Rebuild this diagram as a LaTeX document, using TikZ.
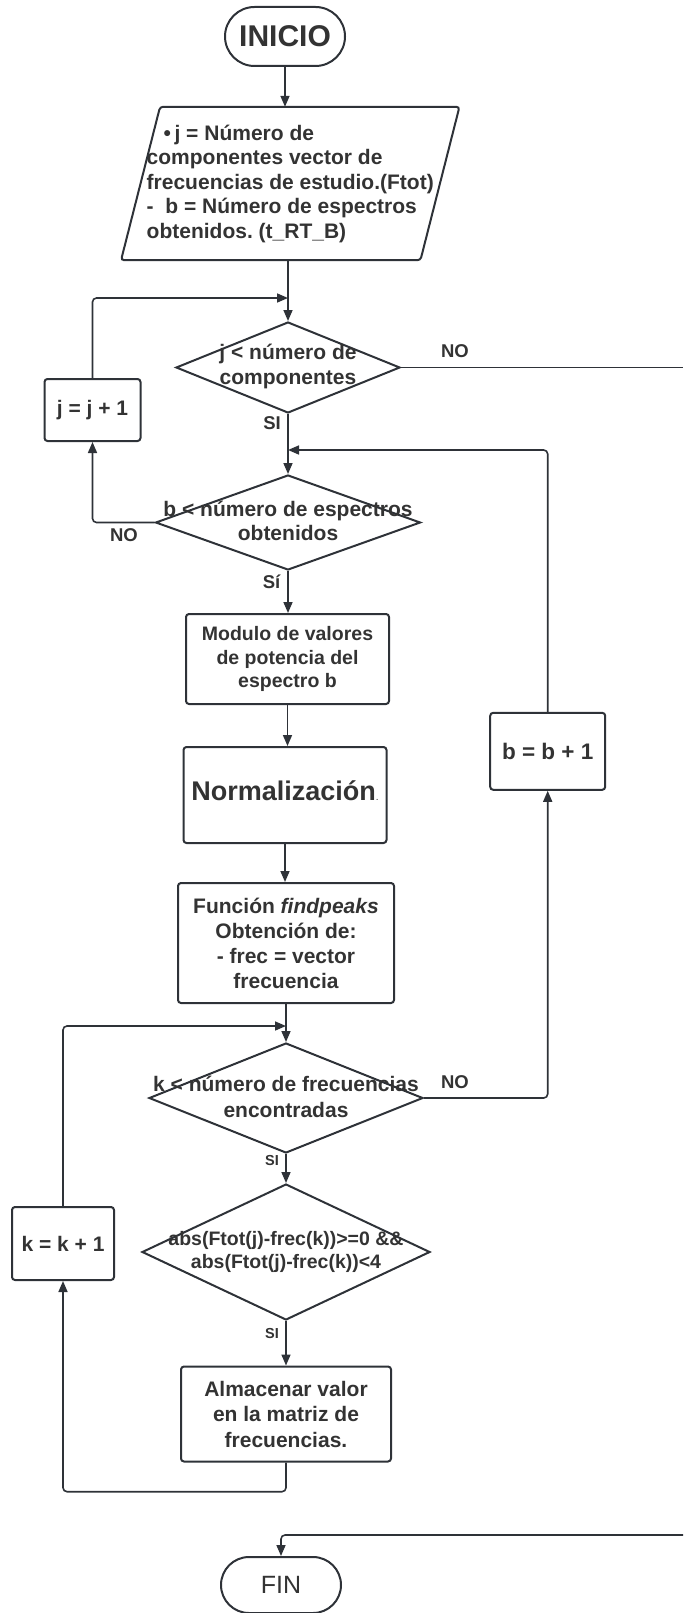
\documentclass[tikz,border=0pt]{standalone}
\usepackage{fontspec}
\setmainfont{Liberation Sans}
\usetikzlibrary{shapes.geometric,shapes.misc,arrows.meta,calc}
\definecolor{lc}{RGB}{46,50,56}
\definecolor{tc}{RGB}{51,51,51}
\frenchspacing
\tikzset{
  base/.style={draw=lc, line width=2pt, text=tc, align=center, inner sep=0pt},
  proc/.style={base, rectangle, rounded corners=3pt},
  term/.style={base, rounded rectangle},
  dec/.style={base, diamond},
  txt/.style={text=tc, align=center, inner sep=0pt},
  fa/.style={font=\bfseries\fontsize{21}{24.5}\selectfont},
  fb/.style={font=\bfseries\fontsize{19.5}{23.3}\selectfont},
  lab/.style={text=tc, inner sep=0pt, font=\bfseries\fontsize{18.5}{20}\selectfont},
  slab/.style={text=tc, inner sep=0pt, font=\bfseries\fontsize{14.5}{16}\selectfont},
  conn/.style={draw=lc, line width=1.6pt, rounded corners=4pt},
  arr/.style={conn, -{Triangle[length=11pt,width=9pt]}},
}
\begin{document}
\begin{tikzpicture}[x=1pt,y=-1pt]
\useasboundingbox (0,0) rectangle (683,1613);

% terminators
\node[term, minimum width=120pt, minimum height=59pt, font=\bfseries\fontsize{30}{34}\selectfont] (inicio) at (285,36.5) {INICIO};
\node[term, minimum width=120pt, minimum height=56pt, font=\fontsize{25}{28}\selectfont] (fin) at (281,1585) {FIN};

% input parallelogram
\node[txt, fa, align=left, minimum width=299pt, minimum height=153pt] (para) at (290.25,183.5)
  {\hspace*{17pt}•\,j = Número de\\componentes vector de\\frecuencias de estudio.(Ftot)\\-\ \ b = Número de espectros\\obtenidos. (t\_RT\_B)};
\draw[line width=2pt, draw=lc, rounded corners=3pt]
  ([xshift=19.5pt]para.north west) -- ([xshift=19.5pt]para.north east) --
  ([xshift=-19.5pt]para.south east) -- ([xshift=-19.5pt]para.south west) -- cycle;

% decisions
\node[dec, minimum width=224pt, minimum height=91pt] (d1) at (288,367.5) {};
\node[txt, fa] (d1t) at (288,366.7) {j < número de\\componentes};
\node[dec, minimum width=265pt, minimum height=95pt] (d2) at (288,522.5) {};
\node[txt, fa] (d2t) at (288,521) {b < número de espectros\\obtenidos};
\node[dec, minimum width=274pt, minimum height=110pt] (d3) at (286,1098) {};
\node[txt, fa, font=\bfseries\fontsize{21}{26}\selectfont] (d3t) at (286,1096.5) {k < número de frecuencias\\encontradas};
\node[dec, minimum width=288pt, minimum height=136pt] (d4) at (286,1252) {};
\node[txt, fb] (d4t) at (286,1251.7) {abs(Ftot(j)-frec(k))>=0 \&\&\\abs(Ftot(j)-frec(k))<4};

% process boxes
\node[proc, fb, minimum width=203pt, minimum height=90pt] (mod) at (287.5,659) {Modulo de valores\\de potencia del\\espectro b};
\node[proc, minimum width=203pt, minimum height=96pt] (norm) at (285,795) {};
\node[txt, anchor=base, font=\bfseries\fontsize{27}{30}\selectfont] (normt) at (285,800) {Normalización{\mdseries\fontsize{10}{12}\selectfont.}};
\node[proc, fa, font=\bfseries\fontsize{21}{25}\selectfont, minimum width=216pt, minimum height=120pt] (fp) at (286,943) {Función \textit{findpeaks}\\Obtención de:\\- frec = vector\\frecuencia};
\node[proc, fa, font=\bfseries\fontsize{21}{25.5}\selectfont, minimum width=210pt, minimum height=95pt] (alm) at (286,1414) {Almacenar valor\\en la matriz de\\frecuencias.};
\node[proc, fa, minimum width=96pt, minimum height=62pt] (jbox) at (92.5,410) {j = j + 1};
\node[proc, font=\bfseries\fontsize{22.5}{26}\selectfont, minimum width=115pt, minimum height=77pt] (bbox) at (547.7,751.3) {b = b + 1};
\node[proc, fa, minimum width=102pt, minimum height=73pt] (kbox) at (63,1243.5) {k = k + 1};

% labels
\node[lab] (no1) at (455,350.7) {NO};
\node[lab] (si1) at (272,422.7) {SI};
\node[lab] (no2) at (124,535) {NO};
\node[lab] (si2) at (271.5,582) {Sí};
\node[lab] (no3) at (455,1081.7) {NO};
\node[slab] (si3) at (272,1160) {SI};
\node[slab] (si4) at (272,1333) {SI};

% helper coordinates
\coordinate (m1) at (288,298);
\coordinate (m2) at (288,450);
\coordinate (m3) at (286,1026);
\coordinate (e1) at (683,367.5);
\coordinate (e2) at (683,1535);
\coordinate (lb) at (63,1491.7);

% connectors
\draw[arr] (inicio.south) -- (inicio.south |- para.north);
\draw[arr] (d1.north |- para.south) -- (d1.north);
\draw[arr] (jbox.north) |- (m1);
\draw[conn] (d1.east) -- (e1);
\draw[arr] (d1.south) -- (d2.north);
\draw[arr] (d2.west) -| (jbox.south);
\draw[arr] (bbox.north) |- (m2);
\draw[arr] (d2.south) -- (d2.south |- mod.north);
\draw[arr] (mod.south) -- (mod.south |- norm.north);
\draw[arr] (norm.south) -- (norm.south |- fp.north);
\draw[arr] (fp.south) -- (fp.south |- d3.north);
\draw[arr] (kbox.north) |- (m3);
\draw[arr] (d3.east) -| (bbox.south);
\draw[arr] (d3.south) -- (d4.north);
\draw[arr] (d4.south) -- (alm.north);
\draw[arr] (alm.south) |- (lb) -- (kbox.south);
\draw[arr] (e2) -| (fin.north);
\end{tikzpicture}
\end{document}
